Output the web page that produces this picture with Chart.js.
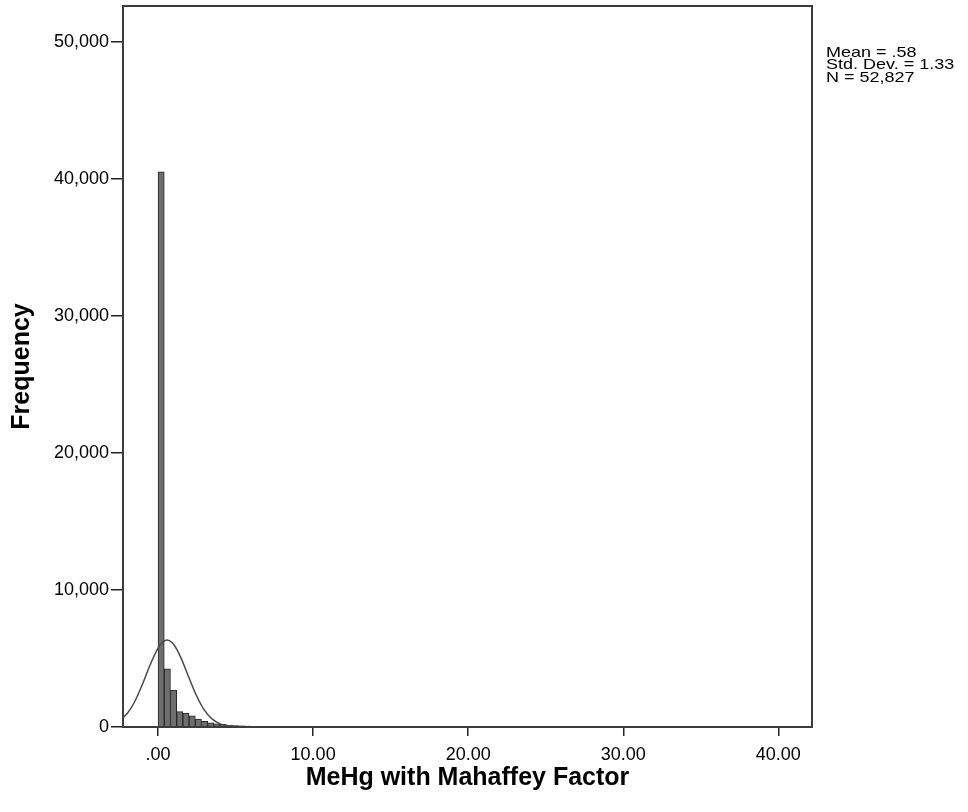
<!DOCTYPE html>
<html>
<head>
<meta charset="utf-8">
<script src="https://cdn.jsdelivr.net/npm/chart.js@4.4.1/dist/chart.umd.min.js"></script>
<style>
  body { margin: 0; background: #fff; }
  #wrap { width: 968px; height: 812px; }
</style>
</head>
<body>
<div id="wrap"><canvas id="hist"></canvas></div>
<script>
// histogram bins (centre of each 0.4 wide bin) and their counts
const binCenters = [0.2, 0.6, 1.0, 1.4, 1.8, 2.2, 2.6, 3.0, 3.4, 3.8, 4.2, 4.6, 5.0,
  5.4, 5.8, 6.2, 6.6, 7.0, 7.4, 7.8, 8.2, 8.6, 9.0, 9.4, 9.8,
  11.0, 12.6, 14.2, 16.6, 19.0, 22.2, 25.8, 29.4, 31.8];
const binCounts = [40500, 4250, 2700, 1120, 1020, 820, 570, 420, 310, 240, 190, 145, 110,
  80, 65, 50, 40, 32, 26, 20, 16, 13, 11, 9, 8,
  5, 4, 3, 2, 2, 1, 1, 1, 1];

// normal curve
const curveX = [-2.26, -2, -1.5, -1, -0.5, 0, 0.3, 0.58, 0.9, 1.2, 1.5, 2, 2.5, 3, 3.5, 4, 4.5, 5, 6, 8, 42.2];
const curveY = [700, 960, 1860, 3130, 4560, 5760, 6200, 6340, 6160, 5690, 4990, 3580, 2240, 1210, 570, 230, 80, 25, 2, 0, 0];

const xTickValues = [0, 10, 20, 30, 40];
const xTickLabels = ['.00', '10.00', '20.00', '30.00', '40.00'];
const yTickValues = [0, 10000, 20000, 30000, 40000, 50000];
const yTickLabels = ['0', '10,000', '20,000', '30,000', '40,000', '50,000'];

const statsLines = ['Mean = .58', 'Std. Dev. = 1.33', 'N = 52,827'];

const FONT = "'Liberation Sans', Arial, sans-serif";

const framePlugin = {
  id: 'frame',
  afterDraw(chart) {
    const { ctx, chartArea: a } = chart;
    ctx.save();
    ctx.strokeStyle = '#3c3c3c';
    ctx.lineWidth = 2;
    ctx.strokeRect(a.left, a.top, a.right - a.left, a.bottom - a.top);
    // stats box text, slightly squashed like the original
    ctx.fillStyle = '#000';
    ctx.font = '18px ' + FONT;
    ctx.textBaseline = 'alphabetic';
    statsLines.forEach((t, i) => {
      ctx.save();
      ctx.translate(a.right + 14, a.top + 51 + i * 12.3);
      ctx.scale(1, 0.8);
      ctx.fillText(t, 0, 0);
      ctx.restore();
    });
    ctx.restore();
  }
};

const ctx = document.getElementById('hist').getContext('2d');
new Chart(ctx, {
  type: 'bar',
  data: {
    datasets: [
      {
        type: 'line',
        data: curveX.map((x, i) => ({ x: x, y: curveY[i] })),
        borderColor: '#4a4a4a',
        borderWidth: 1.5,
        pointRadius: 0,
        cubicInterpolationMode: 'monotone',
        fill: false,
        order: 0
      },
      {
        type: 'bar',
        data: binCenters.map((x, i) => ({ x: x, y: binCounts[i] })),
        backgroundColor: '#6e6e6e',
        borderColor: '#262626',
        borderWidth: 1,
        barPercentage: 1,
        categoryPercentage: 1,
        order: 1
      }
    ]
  },
  options: {
    responsive: true,
    maintainAspectRatio: false,
    animation: false,
    events: [],
    layout: { padding: { top: 6, right: 156, left: 0, bottom: 0 } },
    plugins: { legend: { display: false }, tooltip: { enabled: false } },
    scales: {
      x: {
        type: 'linear',
        offset: false,
        min: -2.26,
        max: 42.17,
        afterFit: s => { s.height = 85; s.paddingLeft = 0; s.paddingRight = 0; },
        afterBuildTicks: s => { s.ticks = xTickValues.map(v => ({ value: v })); },
        ticks: {
          color: '#000',
          font: { family: FONT, size: 18 },
          padding: 8,
          maxRotation: 0,
          callback: v => xTickLabels[xTickValues.indexOf(v)]
        },
        grid: { display: true, drawOnChartArea: false, tickLength: 9, color: '#222', lineWidth: 1.5, offset: false },
        border: { display: false },
        title: {
          display: true,
          text: 'MeHg with Mahaffey Factor',
          color: '#000',
          font: { family: FONT, size: 25, weight: 'bold' },
          padding: { top: 0, bottom: 19 }
        }
      },
      y: {
        min: 0,
        max: 52600,
        afterFit: s => { s.width = 123; s.paddingTop = 0; s.paddingBottom = 0; },
        afterBuildTicks: s => { s.ticks = yTickValues.map(v => ({ value: v })); },
        ticks: {
          color: '#000',
          font: { family: FONT, size: 18 },
          padding: 2,
          callback: v => yTickLabels[yTickValues.indexOf(v)]
        },
        grid: { display: true, drawOnChartArea: false, tickLength: 12, color: '#222', lineWidth: 1.5 },
        border: { display: false },
        title: {
          display: true,
          text: 'Frequency',
          color: '#000',
          font: { family: FONT, size: 25, weight: 'bold' },
          padding: { top: 7, bottom: 0 }
        }
      }
    }
  },
  plugins: [framePlugin]
});
</script>
</body>
</html>
